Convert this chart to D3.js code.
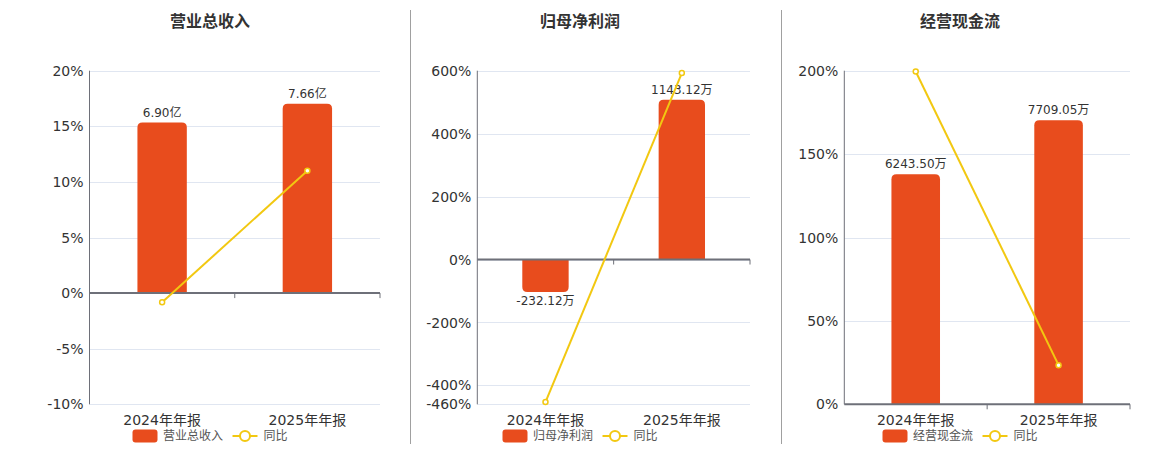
<!DOCTYPE html>
<html><head><meta charset="utf-8">
<script src="https://cdn.jsdelivr.net/npm/d3@7/dist/d3.min.js"></script>
<style>
html,body{margin:0;padding:0;background:#fff;}
svg{display:block;font-family:"DejaVu Sans","Noto Sans CJK SC",sans-serif;}
</style></head>
<body>
<svg id="chart" width="1160" height="450"></svg>
<script>
const categories = ["2024年年报", "2025年年报"];
const titles = ["营业总收入", "归母净利润", "经营现金流"];
const revenueValues = [6.90, 7.66];
const revenueLabels = ["6.90亿", "7.66亿"];
const revenueYoY = [-0.83, 11.01];
const profitValues = [-232.12, 1143.12];
const profitLabels = ["-232.12万", "1143.12万"];
const profitYoY = [-453, 592.5];
const cashValues = [6243.50, 7709.05];
const cashLabels = ["6243.50万", "7709.05万"];
const cashYoY = [199.5, 23.47];
const yTicks1 = [-10, -5, 0, 5, 10, 15, 20];
const yTicks2 = [-460, -400, -200, 0, 200, 400, 600];
const yTicks3 = [0, 50, 100, 150, 200];

const BAR = "#E84C1D", LINE = "#F2C811", GRID = "#E0E6F1", AXIS = "#6E7079", TXT = "#333";
const svg = d3.select("#chart");
const plotTop = 70.7, plotBottom = 404.3;

const panels = [
  {title: titles[0], name: titles[0], vals: revenueValues, labels: revenueLabels, yoy: revenueYoY,
   left: 89.5, right: 380, center: 210, yDom: [-10, 20], ticks: yTicks1, barDom: [-4.5, 9]},
  {title: titles[1], name: titles[1], vals: profitValues, labels: profitLabels, yoy: profitYoY,
   left: 477.3, right: 750, center: 580, yDom: [-460, 600], ticks: yTicks2, barDom: [-1035, 1350]},
  {title: titles[2], name: titles[2], vals: cashValues, labels: cashLabels, yoy: cashYoY,
   left: 844.3, right: 1130, center: 960, yDom: [0, 200], ticks: yTicks3, barDom: [0, 9050]}
];

[410, 781].forEach(x => svg.append("line").attr("x1", x + 0.5).attr("x2", x + 0.5)
  .attr("y1", 10).attr("y2", 444).attr("stroke", "#a0a0a0").attr("stroke-width", 1));

function barPath(x, w, y0, y1, r) {
  const up = y1 < y0;
  const h = Math.abs(y1 - y0);
  r = Math.min(r, h / 2, w / 2);
  if (up) {
    return `M${x},${y0}V${y1 + r}Q${x},${y1} ${x + r},${y1}H${x + w - r}Q${x + w},${y1} ${x + w},${y1 + r}V${y0}Z`;
  } else {
    return `M${x},${y0}V${y1 - r}Q${x},${y1} ${x + r},${y1}H${x + w - r}Q${x + w},${y1} ${x + w},${y1 - r}V${y0}Z`;
  }
}

panels.forEach(p => {
  const g = svg.append("g");
  const x = d3.scaleBand().domain(categories).range([p.left, p.right]).paddingInner(0).paddingOuter(0);
  const y = d3.scaleLinear().domain(p.yDom).range([plotBottom, plotTop]);
  const yb = d3.scaleLinear().domain(p.barDom).range([plotBottom, plotTop]);
  const zeroY = y(0);

  g.append("text").attr("x", p.center).attr("y", 27).attr("text-anchor", "middle")
    .attr("font-family", "'Noto Sans CJK SC',sans-serif").attr("font-weight", "bold")
    .attr("font-size", 16).attr("fill", TXT).text(p.title);

  g.selectAll(".grid").data(p.ticks).join("line")
    .attr("x1", p.left).attr("x2", p.right)
    .attr("y1", d => Math.round(y(d)) + 0.5).attr("y2", d => Math.round(y(d)) + 0.5)
    .attr("stroke", GRID).attr("stroke-width", 1);

  g.selectAll(".yl").data(p.ticks).join("text")
    .attr("x", p.left - 6).attr("y", d => y(d)).attr("dy", "0.36em")
    .attr("text-anchor", "end").attr("font-size", 14).attr("fill", TXT)
    .text(d => d + "%");

  g.append("line").attr("x1", p.left).attr("x2", p.left).attr("y1", plotTop).attr("y2", plotBottom)
    .attr("stroke", AXIS).attr("stroke-width", 1);

  const bw = x.bandwidth() * 0.34;
  g.selectAll(".bar").data(p.vals).join("path")
    .attr("d", (d, i) => {
      const cx = x(categories[i]) + x.bandwidth() / 2;
      return barPath(cx - bw / 2, bw, yb(0), yb(d), 5);
    })
    .attr("fill", BAR);

  g.append("line").attr("x1", p.left).attr("x2", p.right)
    .attr("y1", zeroY).attr("y2", zeroY).attr("stroke", AXIS).attr("stroke-width", 2);
  const bounds = categories.map(c => x(c) + x.bandwidth());
  g.selectAll(".xt").data(bounds).join("line")
    .attr("x1", d => d).attr("x2", d => d).attr("y1", zeroY).attr("y2", zeroY + 5)
    .attr("stroke", AXIS).attr("stroke-width", 1);

  g.selectAll(".xl").data(categories).join("text")
    .attr("x", d => x(d) + x.bandwidth() / 2).attr("y", 425)
    .attr("text-anchor", "middle").attr("font-size", 14).attr("fill", TXT)
    .attr("font-family", "'DejaVu Sans','Noto Sans CJK SC',sans-serif").text(d => d);

  g.selectAll(".bl").data(p.vals).join("text")
    .attr("x", (d, i) => x(categories[i]) + x.bandwidth() / 2)
    .attr("y", d => d >= 0 ? yb(d) - 6 : yb(d) + 13)
    .attr("text-anchor", "middle").attr("font-size", 12).attr("fill", TXT)
    .text((d, i) => p.labels[i]);

  const line = d3.line().x((d, i) => x(categories[i]) + x.bandwidth() / 2).y(d => y(d));
  g.append("path").datum(p.yoy).attr("d", line).attr("fill", "none")
    .attr("stroke", LINE).attr("stroke-width", 2);
  g.selectAll(".pt").data(p.yoy).join("circle")
    .attr("cx", (d, i) => x(categories[i]) + x.bandwidth() / 2).attr("cy", d => y(d))
    .attr("r", 2.5).attr("fill", "#fff").attr("stroke", LINE).attr("stroke-width", 1.5);

  const lx = p.center - 77.5, ly = 436;
  const lg = g.append("g");
  lg.append("rect").attr("x", lx).attr("y", ly - 6.5).attr("width", 25).attr("height", 13)
    .attr("rx", 3).attr("fill", BAR);
  lg.append("text").attr("x", lx + 30.5).attr("y", ly).attr("dy", "0.36em")
    .attr("font-size", 12).attr("fill", "#555")
    .attr("font-family", "'Noto Sans CJK SC',sans-serif").text(p.name);
  const l2 = lx + 100;
  lg.append("line").attr("x1", l2).attr("x2", l2 + 25).attr("y1", ly).attr("y2", ly)
    .attr("stroke", LINE).attr("stroke-width", 2);
  lg.append("circle").attr("cx", l2 + 12.5).attr("cy", ly).attr("r", 5)
    .attr("fill", "#fff").attr("stroke", LINE).attr("stroke-width", 2);
  lg.append("text").attr("x", l2 + 31).attr("y", ly).attr("dy", "0.36em")
    .attr("font-size", 12).attr("fill", "#555")
    .attr("font-family", "'Noto Sans CJK SC',sans-serif").text("同比");
});
</script>
</body></html>
